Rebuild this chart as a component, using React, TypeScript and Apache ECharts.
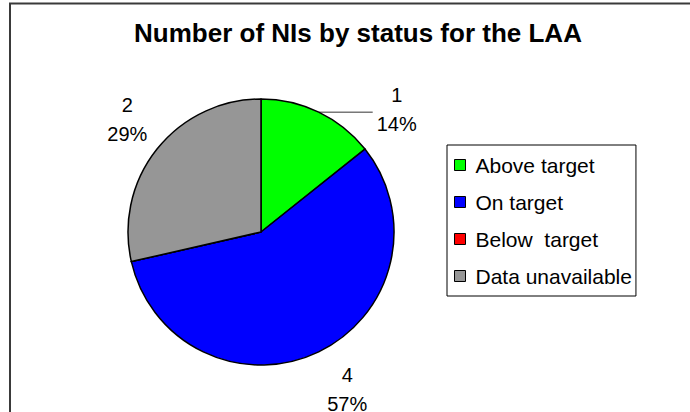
import React, { useEffect, useRef } from 'react';
import * as echarts from 'echarts';

const titleText = 'Number of NIs by status for the LAA';
const categories = ['Above target', 'On target', 'Below  target', 'Data unavailable'];
const values = [1, 4, 0, 2];
const colors = ['#00FF00', '#0000FF', '#FF0000', '#969696'];
const leaderLine = [true, false, false, false];
// small per-label nudges (layout styling only)
const labelNudge = [
  [0, 0],
  [12, -5],
  [0, 0],
  [0, 0],
];

const FONT = '"Liberation Sans", Arial, Helvetica, sans-serif';
const CX = 261;
const CY = 232;
const R = 133;
const GAP = 18;
const LEADER = 54;

export default function App() {
  const ref = useRef<HTMLDivElement>(null);
  useEffect(() => {
    const chart = echarts.init(ref.current!, null, { renderer: 'svg' });
    const total = values.reduce((a, b) => a + b, 0);
    chart.setOption({
      animation: false,
      backgroundColor: '#ffffff',
      title: {
        text: titleText,
        left: 358,
        top: 20,
        textAlign: 'center',
        padding: 0,
        textStyle: { fontFamily: FONT, fontSize: 26, fontWeight: 'bold', color: '#000' },
      },
      graphic: [
        {
          type: 'rect',
          shape: { x: 10, y: 3.5, width: 760, height: 480 },
          style: { fill: 'none', stroke: '#3a3a3a', lineWidth: 2 },
          silent: true,
        },
      ],
      legend: {
        orient: 'vertical',
        left: 447,
        top: 145,
        padding: [8, 4, 8, 7],
        itemGap: 13,
        itemWidth: 11,
        itemHeight: 11,
        icon: 'rect',
        borderColor: '#000',
        borderWidth: 1,
        itemStyle: { borderColor: '#000', borderWidth: 1 },
        textStyle: { fontFamily: FONT, fontSize: 21, color: '#000', lineHeight: 24, padding: [0, 0, 0, 5] },
        data: categories,
      },
      series: [
        {
          type: 'pie',
          center: [CX, CY],
          radius: [0, R],
          startAngle: 90,
          clockwise: true,
          avoidLabelOverlap: false,
          percentPrecision: 0,
          itemStyle: { borderColor: '#000', borderWidth: 1.5 },
          label: {
            show: true,
            position: 'outside',
            formatter: '{c}\n{d}%',
            fontFamily: FONT,
            fontSize: 20,
            lineHeight: 29,
            color: '#000',
            align: 'center',
          },
          labelLine: { show: false },
          labelLayout: (p: any) => {
            const i = p.dataIndex;
            if (!values[i]) return {};
            const before = values.slice(0, i).reduce((a, b) => a + b, 0);
            const mid = ((before + values[i] / 2) / total) * Math.PI * 2;
            const s = Math.sin(mid);
            const c = Math.cos(mid);
            const w = p.labelRect.width;
            const h = p.labelRect.height;
            if (leaderLine[i]) {
              const x0 = CX + R * s;
              const y0 = CY - R * c;
              const x1 = x0 + LEADER;
              return {
                x: x1 + 4 + w / 2,
                y: y0 - 3,
                align: 'center',
                verticalAlign: 'middle',
                labelLinePoints: [[x0, y0], [x0 + 1, y0], [x1, y0]],
              };
            }
            const ax = CX + (R + GAP) * s;
            const ay = CY - (R + GAP) * c;
            return {
              x: ax + (w / 2) * s + labelNudge[i][0],
              y: ay - (h / 2) * c + labelNudge[i][1],
              align: 'center',
              verticalAlign: 'middle',
            };
          },
          data: categories.map((name, i) => ({
            name,
            value: values[i],
            itemStyle: { color: colors[i] },
            label: { show: values[i] > 0 },
            labelLine: { show: leaderLine[i], length: 0, length2: LEADER, lineStyle: { color: '#333', width: 1 } },
          })),
        },
      ],
    });
    return () => chart.dispose();
  }, []);
  return (
    <div
      ref={ref}
      style={{ position: 'absolute', left: 0, top: 0, width: 690, height: 412, background: '#fff' }}
    />
  );
}
